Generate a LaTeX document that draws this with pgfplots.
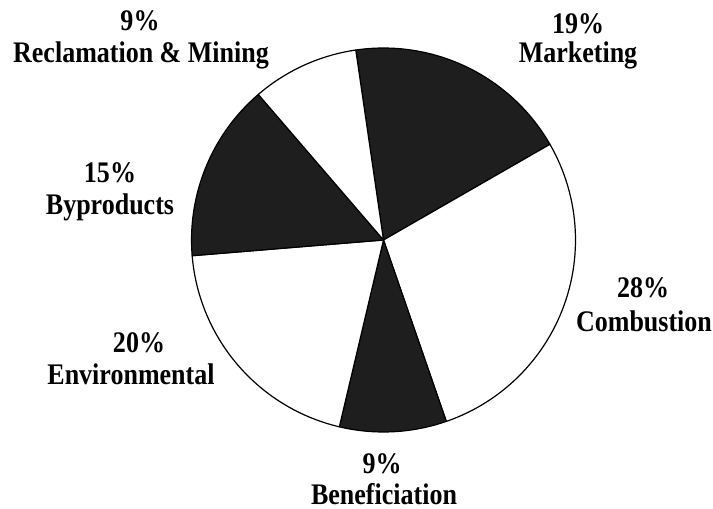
\documentclass[border=0pt]{standalone}
\usepackage{fontspec}
\setmainfont{Liberation Serif}
\usepackage{graphicx}
\usepackage{pgfplots}
\pgfplotsset{compat=1.18}
\definecolor{wedge}{HTML}{1E1E1E}
% condensed bold label text
\newcommand\lab[1]{\scalebox{0.87}[1]{#1}}
\tikzset{lbl/.style={anchor=base, inner sep=0pt, font=\bfseries\fontsize{30}{32}\selectfont}}

% Shares of the programme (per cent), clockwise from the top
%   Marketing 19, Combustion 28, Beneficiation 9,
%   Environmental 20, Byproducts 15, Reclamation & Mining 9
% Wedge boundaries in degrees (3.6 degrees per per cent), starting at 98.3:
%   98.3 | 29.9 | -70.9 | -103.3 | -175.3 | -229.3 (= 130.7) | 98.3

\begin{document}
\begin{tikzpicture}
\begin{axis}[
  width=713bp, height=509bp, scale only axis,
  xmin=0, xmax=713, ymin=0, ymax=509,
  hide axis, clip=false,
  every axis plot/.append style={line width=1.2bp, draw=black, line join=round},
]
% Marketing 19%
\addplot[fill=wedge, domain=29.9:98.3, samples=40, variable=\t]
  ({383.5+192*cos(\t)},{269+192*sin(\t)}) -- (axis cs:383.5,269) -- cycle;
% Combustion 28%
\addplot[fill=white, domain=-70.9:29.9, samples=60, variable=\t]
  ({383.5+192*cos(\t)},{269+192*sin(\t)}) -- (axis cs:383.5,269) -- cycle;
% Beneficiation 9%
\addplot[fill=wedge, domain=-103.3:-70.9, samples=20, variable=\t]
  ({383.5+192*cos(\t)},{269+192*sin(\t)}) -- (axis cs:383.5,269) -- cycle;
% Environmental 20%
\addplot[fill=white, domain=-175.3:-103.3, samples=40, variable=\t]
  ({383.5+192*cos(\t)},{269+192*sin(\t)}) -- (axis cs:383.5,269) -- cycle;
% Byproducts 15%
\addplot[fill=wedge, domain=130.7:184.7, samples=30, variable=\t]
  ({383.5+192*cos(\t)},{269+192*sin(\t)}) -- (axis cs:383.5,269) -- cycle;
% Reclamation & Mining 9%
\addplot[fill=white, domain=98.3:130.7, samples=20, variable=\t]
  ({383.5+192*cos(\t)},{269+192*sin(\t)}) -- (axis cs:383.5,269) -- cycle;

% labels: percentage line and name line, placed on their baselines
\node[lbl] at (axis cs:140,478) {\lab{9\%}};
\node[lbl] at (axis cs:141,446) {\lab{Reclamation \& Mining}};
\node[lbl] at (axis cs:578,475) {\lab{19\%}};
\node[lbl] at (axis cs:578,446) {\lab{Marketing}};
\node[lbl] at (axis cs:110,326) {\lab{15\%}};
\node[lbl] at (axis cs:110,294) {\lab{Byproducts}};
\node[lbl] at (axis cs:643,211) {\lab{28\%}};
\node[lbl] at (axis cs:644,177) {\lab{Combustion}};
\node[lbl] at (axis cs:139,156) {\lab{20\%}};
\node[lbl] at (axis cs:131,124) {\lab{Environmental}};
\node[lbl] at (axis cs:382,35) {\lab{9\%}};
\node[lbl] at (axis cs:384,5) {\lab{Beneficiation}};

\coordinate (bl) at (axis cs:0,0);
\coordinate (tr) at (axis cs:713,509);
\end{axis}
% the page is the full plotting area
\pgfresetboundingbox
\useasboundingbox (bl) rectangle (tr);
\end{tikzpicture}
\end{document}
